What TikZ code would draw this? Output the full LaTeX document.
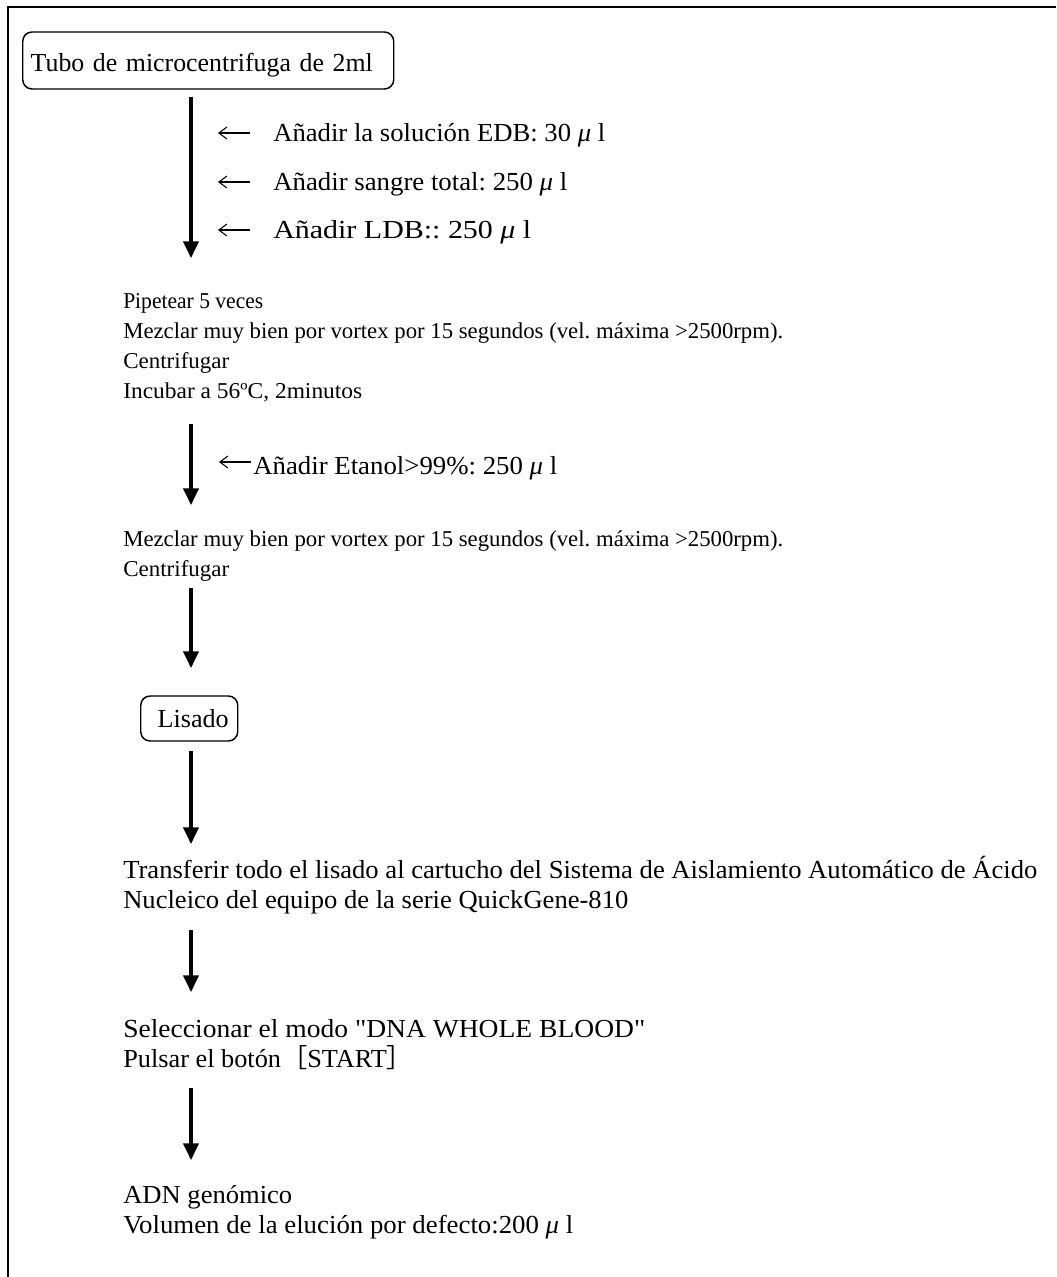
\documentclass[tikz,border=0pt]{standalone}
\usepackage{fontspec}
\usepackage{graphicx}
\setmainfont{Liberation Serif}
\newfontfamily\qfont{Liberation Serif}
\newfontfamily\cjk{Noto Sans CJK JP}
\usetikzlibrary{arrows.meta}
\newcommand{\mymu}{{\itshape μ}}
\newcommand{\fitw}[2]{\resizebox{\dimexpr #1pt*3/4\relax}{\height}{#2}}
\frenchspacing
\tikzset{
  x=0.75pt, y=-0.75pt,
  txt/.style={anchor=base west, inner sep=0pt, font=\fontsize{19.5}{22}\selectfont},
  txts/.style={anchor=base west, inner sep=0pt, font=\fontsize{17}{20}\selectfont},
  rbox/.style={draw, line width=1.1pt, rounded corners=7pt, anchor=base west, inner xsep=0pt, inner ysep=0pt, align=left, font=\fontsize{19.5}{22}\selectfont},
  mainarr/.style={line width=2.3pt, -{Triangle[width=11.5pt,length=12.5pt]}},
  smallarr/.style={line width=0.8pt, -{Straight Barb[length=6pt,width=9pt,line width=0.8pt]}},
  frame/.style={line width=1.8pt}
}
\begin{document}
\begin{tikzpicture}
\useasboundingbox (0,0) rectangle (1056,1277);
% frame
\coordinate (fb) at (8,1277);
\coordinate (fc) at (8,7);
\coordinate (fr) at (1056,7);
\draw[frame] (fb) -- (fc) -- (fr);

% top box
\node[rbox, text width=278.25pt, text height=30pt, text depth=12.75pt] (tubo) at (22,72) {\hspace*{6pt}\fitw{342}{Tubo de microcentrifuga de 2ml}};

% arrow 1
\coordinate (a1s) at (191,97);
\coordinate (a1e) at (191,258);
\draw[mainarr] (a1s) -- (a1e);

\node[txt] (add1) at (273,142) {\fitw{332}{Añadir la solución EDB: 30 \mymu\ l}};
\node[txt] (add2) at (273,190) {\fitw{294}{Añadir sangre total: 250 \mymu\ l}};
\node[txt] (add3) at (273,238) {\fitw{258}{Añadir LDB:: 250 \mymu\ l}};
\coordinate (s1) at (250,133); \coordinate (s1e) at (218,133);
\coordinate (s2) at (250,182); \coordinate (s2e) at (218,182);
\coordinate (s3) at (250,230); \coordinate (s3e) at (218,230);
\draw[smallarr] (s1) -- (s1e);
\draw[smallarr] (s2) -- (s2e);
\draw[smallarr] (s3) -- (s3e);

% block 1
\node[txts] (b1a) at (123,308) {\fitw{140}{Pipetear 5 veces}};
\node[txts] (b1b) at (123,338) {\fitw{660}{Mezclar muy bien por vortex por 15 segundos (vel. máxima >2500rpm).}};
\node[txts] (b1c) at (123,368) {\fitw{106}{Centrifugar}};
\node[txts] (b1d) at (123,398) {\fitw{239}{Incubar a 56ºC, 2minutos}};

% arrow 2
\coordinate (a2s) at (191,424);
\coordinate (a2e) at (191,505);
\draw[mainarr] (a2s) -- (a2e);
\node[txt] (add4) at (253,474) {\fitw{304}{Añadir Etanol>99\%: 250 \mymu\ l}};
\coordinate (s4) at (251,462); \coordinate (s4e) at (219,462);
\draw[smallarr] (s4) -- (s4e);

% block 2
\node[txts] (b2a) at (123,546) {\fitw{660}{Mezclar muy bien por vortex por 15 segundos (vel. máxima >2500rpm).}};
\node[txts] (b2b) at (123,576) {\fitw{106}{Centrifugar}};

% arrow 3
\coordinate (a3s) at (191,588);
\coordinate (a3e) at (191,668);
\draw[mainarr] (a3s) -- (a3e);

% Lisado box
\node[rbox, text width=72.75pt, text height=23.25pt, text depth=10.5pt] (lisado) at (140,727) {\hspace*{12.75pt}\fitw{71}{Lisado}};

% arrow 4
\coordinate (a4s) at (191,751);
\coordinate (a4e) at (191,844);
\draw[mainarr] (a4s) -- (a4e);

% block 3
\node[txt] (b3a) at (123,878) {\fitw{914}{Transferir todo el lisado al cartucho del Sistema de Aislamiento Automático de Ácido}};
\node[txt] (b3b) at (123,908) {\fitw{505}{Nucleico del equipo de la serie QuickGene-810}};

% arrow 5
\coordinate (a5s) at (191,930);
\coordinate (a5e) at (191,992);
\draw[mainarr] (a5s) -- (a5e);

% block 4
\node[txt] (b4a) at (123,1037) {\fitw{522}{Seleccionar el modo {\qfont "}DNA WHOLE BLOOD{\qfont "}}};
\node[txt] (b4b) at (123,1067) {\fitw{290}{Pulsar el botón{\cjk［}START{\cjk］}}};

% arrow 6
\coordinate (a6s) at (191,1088);
\coordinate (a6e) at (191,1160);
\draw[mainarr] (a6s) -- (a6e);

% block 5
\node[txt] (b5a) at (123,1203) {\fitw{169}{ADN genómico}};
\node[txt] (b5b) at (123,1233) {\fitw{450}{Volumen de la elución por defecto:200 \mymu\ l}};
\end{tikzpicture}
\end{document}
